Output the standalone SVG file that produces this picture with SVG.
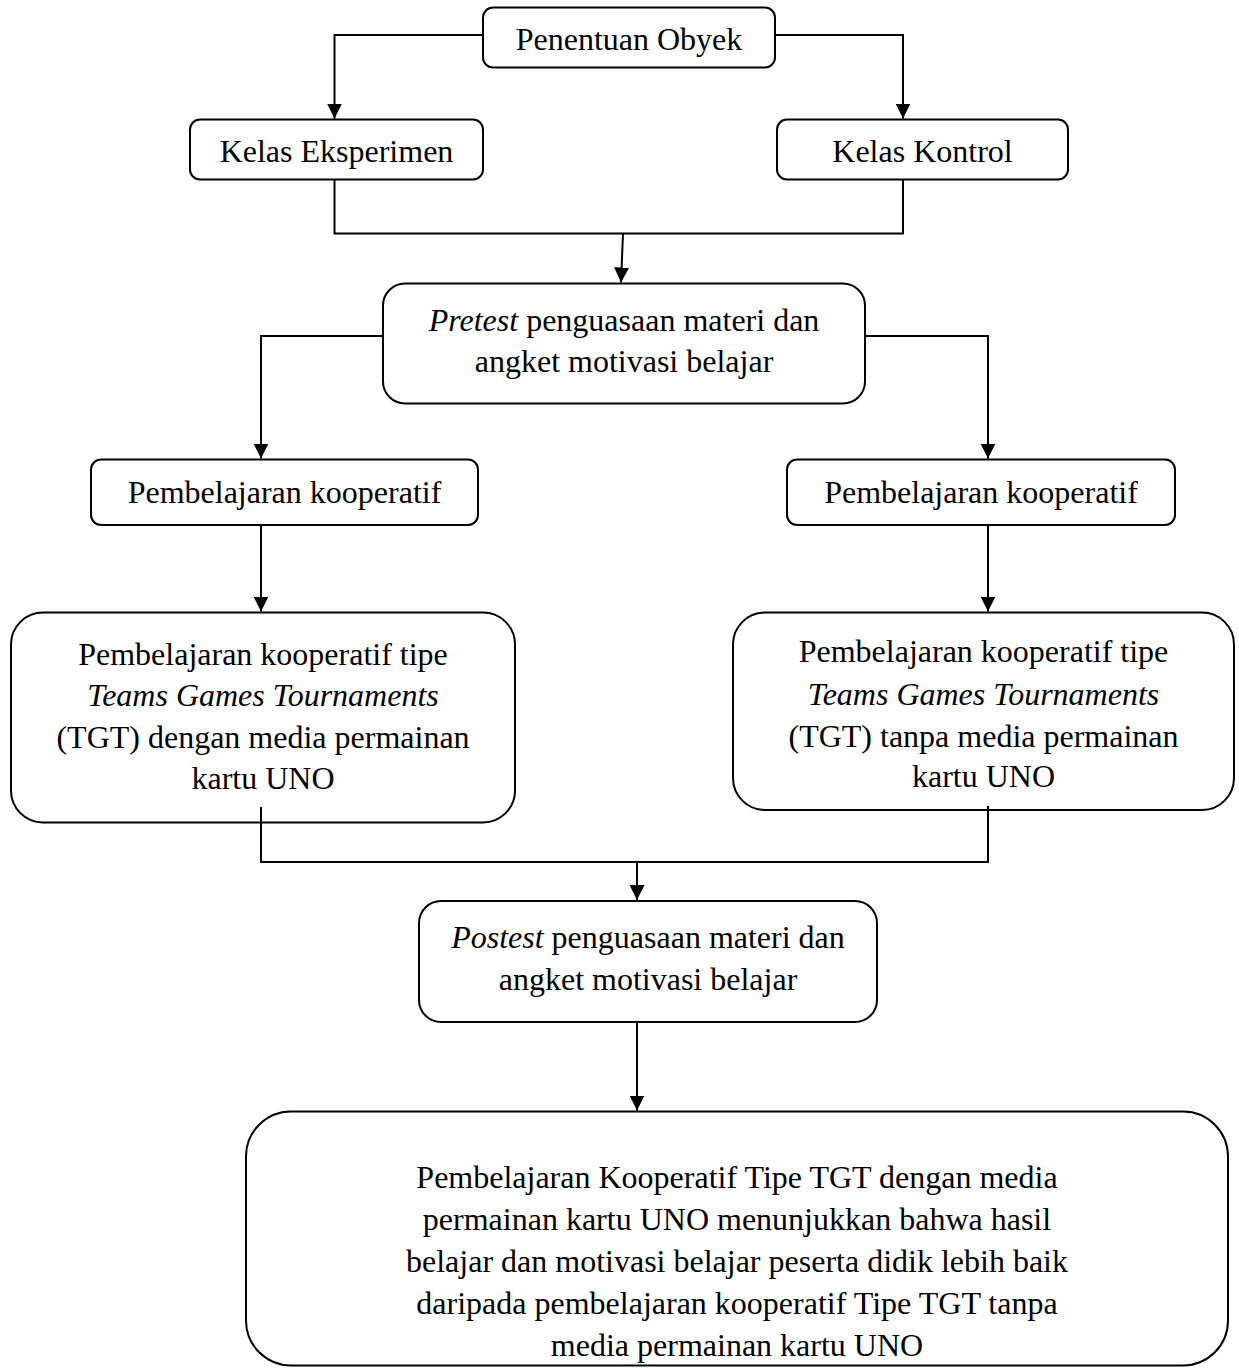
<svg xmlns="http://www.w3.org/2000/svg" width="1239" height="1368" viewBox="0 0 1239 1368">
<defs>
<marker id="arr" viewBox="0 0 10 10" refX="10" refY="5" markerWidth="15" markerHeight="15" markerUnits="userSpaceOnUse" orient="auto">
<path d="M0,0 L10,5 L0,10 z" fill="#000"/>
</marker>
<style>
.box{fill:#fff;stroke:#000;stroke-width:2}
.t{font-family:"Liberation Serif","Times New Roman",serif;font-size:32px;fill:#000;text-anchor:middle}
.i{font-style:italic}
.c{fill:none;stroke:#000;stroke-width:2}
.a{marker-end:url(#arr)}
</style>
</defs>
<rect width="1239" height="1368" fill="#fff"/>
<g id="n1"><rect class="box" x="483" y="7.5" width="292" height="60" rx="10"/><text class="t" x="629" y="50">Penentuan Obyek</text></g>
<g id="n2"><rect class="box" x="190" y="119.5" width="293" height="60" rx="10"/><text class="t" x="336.5" y="162">Kelas Eksperimen</text></g>
<g id="n3"><rect class="box" x="777" y="119.5" width="291" height="60" rx="10"/><text class="t" x="922.5" y="162">Kelas Kontrol</text></g>
<g id="n4"><rect class="box" x="383" y="283.5" width="482" height="120" rx="22"/><text class="t" x="624" y="331"><tspan class="i">Pretest</tspan> penguasaan materi dan</text><text class="t" x="624" y="372">angket motivasi belajar</text></g>
<g id="n5"><rect class="box" x="91" y="459.5" width="387" height="65.5" rx="10"/><text class="t" x="284.5" y="503">Pembelajaran kooperatif</text></g>
<g id="n6"><rect class="box" x="787" y="459.5" width="388" height="65.5" rx="10"/><text class="t" x="981" y="503">Pembelajaran kooperatif</text></g>
<g id="n7"><rect class="box" x="11" y="612.5" width="504" height="210" rx="32"/>
<text class="t" x="263" y="665">Pembelajaran kooperatif tipe</text>
<text class="t i" x="263" y="706">Teams Games Tournaments</text>
<text class="t" x="263" y="748">(TGT) dengan media permainan</text>
<text class="t" x="263" y="789">kartu UNO</text></g>
<g id="n8"><rect class="box" x="733" y="612.5" width="501" height="197.5" rx="32"/>
<text class="t" x="983.5" y="662">Pembelajaran kooperatif tipe</text>
<text class="t i" x="983.5" y="705">Teams Games Tournaments</text>
<text class="t" x="983.5" y="747">(TGT) tanpa media permainan</text>
<text class="t" x="983.5" y="787">kartu UNO</text></g>
<g id="n9"><rect class="box" x="419" y="901" width="458" height="121" rx="22"/><text class="t" x="648" y="948"><tspan class="i">Postest</tspan> penguasaan materi dan</text><text class="t" x="648" y="990">angket motivasi belajar</text></g>
<g id="n10"><rect class="box" x="246" y="1111.5" width="982" height="254" rx="45"/>
<text class="t" x="737" y="1188">Pembelajaran Kooperatif Tipe TGT dengan media</text>
<text class="t" x="737" y="1230">permainan kartu UNO menunjukkan bahwa hasil</text>
<text class="t" x="737" y="1272">belajar dan motivasi belajar peserta didik lebih baik</text>
<text class="t" x="737" y="1314">daripada pembelajaran kooperatif Tipe TGT tanpa</text>
<text class="t" x="737" y="1356">media permainan kartu UNO</text></g>
<g id="connectors">
<path class="c a" d="M483,35 H334.5 V118.5"/>
<path class="c a" d="M775,35 H903 V118.5"/>
<path class="c" d="M334.5,180 V233.5 H903 V180"/>
<path class="c a" d="M623,233.5 L621,282.5"/>
<path class="c a" d="M383,336 H261 V458.5"/>
<path class="c a" d="M865,336 H988 V458.5"/>
<path class="c a" d="M261,525 V611.5"/>
<path class="c a" d="M988,525 V611.5"/>
<path class="c" d="M261,807 V862 H988 V806"/>
<path class="c a" d="M637,862 V900"/>
<path class="c a" d="M637,1022 V1110.5"/>
</g>
</svg>
